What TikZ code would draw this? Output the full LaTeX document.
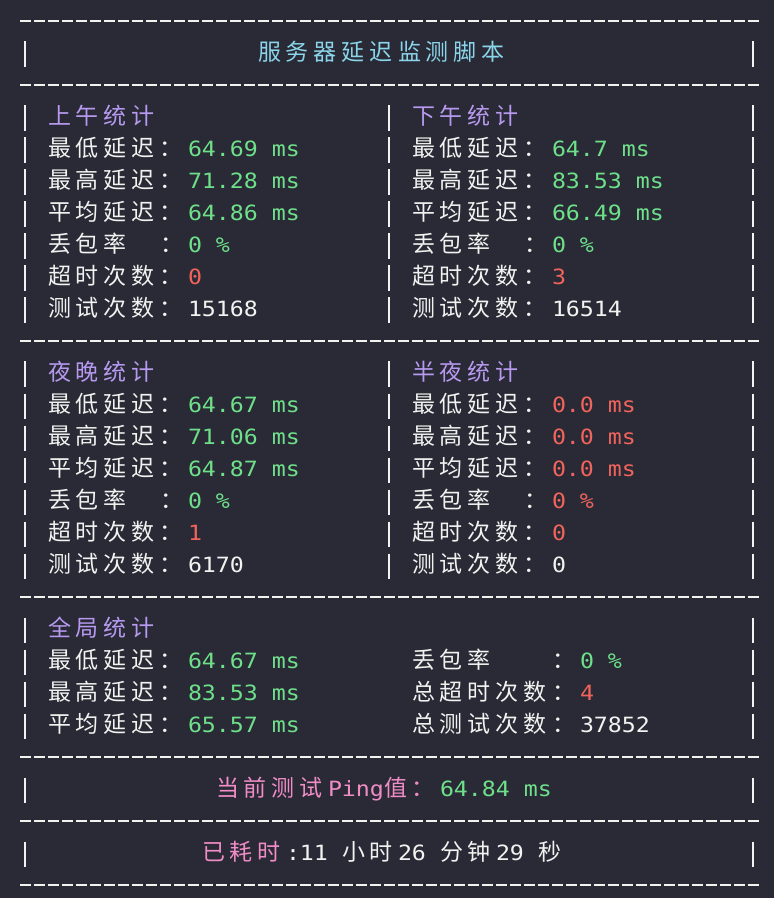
\documentclass[tikz,border=0pt]{standalone}
\usepackage{fontspec}
\newfontfamily\cjk[LetterSpace=21.74]{Noto Sans CJK SC}
\newfontfamily\mono[FakeStretch=1.107]{DejaVu Sans Mono}
\newcommand\zhf{\cjk\fontsize{23}{23}\selectfont}
\newcommand\enf{\mono\fontsize{21}{21}\selectfont}
\definecolor{bg}{HTML}{292A36}
\definecolor{fg}{HTML}{F2F2F0}
\definecolor{tcyan}{HTML}{8BD5EA}
\definecolor{tpurple}{HTML}{B79AF0}
\definecolor{tgreen}{HTML}{6EE08A}
\definecolor{tred}{HTML}{F0645C}
\definecolor{tpink}{HTML}{F08CC6}
\begin{document}
\begin{tikzpicture}[line join=round,
	txt/.style={inner sep=0pt,outer sep=0pt,anchor=base west},
	zh/.style={txt,font=\zhf},
	en/.style={txt,font=\enf},
	rule/.style={draw=fg,line width=2pt,dash pattern=on 10.7pt off 3.3pt},
	bar/.style={draw=fg,line width=2.2pt}]
	\fill[bg] (0,0) rectangle (774pt,-898pt);
	\useasboundingbox (0,0) rectangle (774pt,-898pt);
	\begin{scope}[x=14pt,y=-32pt,shift={(20pt,-28.5pt)}] % 1 o = 1 ky tu
		% khung
		\foreach \r in {0,2,10,18,23,25,27}
		\draw[rule] (0,\r-0.25)--(52.764,\r-0.25);
		\foreach \r in {1,19,20,21,22,24,26} \foreach \c in {0,52}
		\draw[bar] (\c+0.357,\r-0.594)--(\c+0.357,\r+0.188);
		\foreach \r in {3,4,5,6,7,8,9,11,12,13,14,15,16,17} \foreach \c in {0,26,52}
		\draw[bar] (\c+0.357,\r-0.594)--(\c+0.357,\r+0.188);
		% tieu de
		\node[zh,text=tcyan] (title) at (17,1) {服务器延迟监测脚本};
		% bon khoi
		\foreach \nm/\c/\r/\head in {am/2/3/上午统计,pm/28/3/下午统计,ev/2/11/夜晚统计,nt/28/11/半夜统计}{
			\node[zh,text=tpurple] (\nm-head) at (\c,\r) {\head};
			\foreach \lab [count=\i] in {最低延迟：,最高延迟：,平均延迟：,丢包率,超时次数：,测试次数：}
			\node[zh,text=fg] (\nm-lab\i) at (\c,\r+\i) {\lab};
			\node[zh,text=fg] (\nm-colon) at (\c+8,\r+4) {：};
		}
		\foreach \v/\k [count=\i] in {64.69 ms/tgreen,71.28 ms/tgreen,64.86 ms/tgreen,0 \%/tgreen,0/tred,15168/fg}
		\node[en,text=\k] (am-val\i) at (12,3+\i) {\v};
		\foreach \v/\k [count=\i] in {64.7 ms/tgreen,83.53 ms/tgreen,66.49 ms/tgreen,0 \%/tgreen,3/tred,16514/fg}
		\node[en,text=\k] (pm-val\i) at (38,3+\i) {\v};
		\foreach \v/\k [count=\i] in {64.67 ms/tgreen,71.06 ms/tgreen,64.87 ms/tgreen,0 \%/tgreen,1/tred,6170/fg}
		\node[en,text=\k] (ev-val\i) at (12,11+\i) {\v};
		\foreach \v/\k [count=\i] in {0.0 ms/tred,0.0 ms/tred,0.0 ms/tred,0 \%/tred,0/tred,0/fg}
		\node[en,text=\k] (nt-val\i) at (38,11+\i) {\v};
		% toan cuc
		\node[zh,text=tpurple] (all-head) at (2,19) {全局统计};
		\foreach \lab/\v [count=\i] in {最低延迟：/64.67 ms,最高延迟：/83.53 ms,平均延迟：/65.57 ms}{
			\node[zh,text=fg] (all-lab\i) at (2,19+\i) {\lab};
			\node[en,text=tgreen] (all-val\i) at (12,19+\i) {\v};
		}
		\node[zh,text=fg] (all-loss) at (28,20) {丢包率};
		\node[zh,text=fg] (all-colon) at (38,20) {：};
		\node[en,text=tgreen] (all-lossv) at (40,20) {0 \%};
		\node[zh,text=fg] (all-to) at (28,21) {总超时次数：};
		\node[en,text=tred] (all-tov) at (40,21) {4};
		\node[zh,text=fg] (all-n) at (28,22) {总测试次数：};
		\node[en,text=fg] (all-nv) at (40,22) {37852};
		% ping
		\node[zh,text=tpink] (ping-lab) at (14,24) {当前测试};
		\node[en,text=tpink] (ping-en) at (22,24) {Ping};
		\node[zh,text=tpink] (ping-col) at (26,24) {值：};
		\node[en,text=tgreen] (ping-val) at (30,24) {64.84 ms};
		% thoi gian
		\node[zh,text=tpink] (el-lab) at (13,26) {已耗时};
		\node[en,text=fg] (el-h) at (19,26) {:11};
		\node[zh,text=fg] (el-hu) at (23,26) {小时};
		\node[en,text=fg] (el-m) at (27,26) {26};
		\node[zh,text=fg] (el-mu) at (30,26) {分钟};
		\node[en,text=fg] (el-s) at (34,26) {29};
		\node[zh,text=fg] (el-su) at (37,26) {秒};
	\end{scope}
\end{tikzpicture}
\end{document}
